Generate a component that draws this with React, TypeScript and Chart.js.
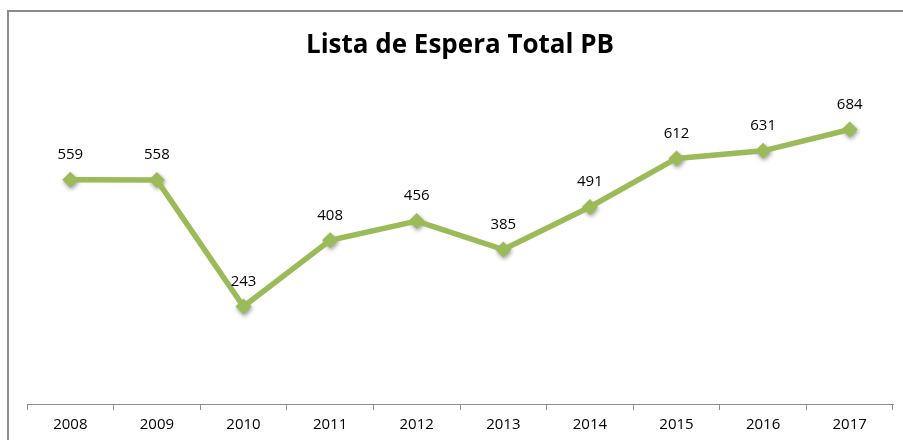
import React, { useEffect, useRef } from "react";
import { Chart, registerables } from "chart.js";

Chart.register(...registerables);

const categories = ["2008", "2009", "2010", "2011", "2012", "2013", "2014", "2015", "2016", "2017"];
const values = [559, 558, 243, 408, 456, 385, 491, 612, 631, 684];
const title = "Lista de Espera Total PB";

const FONT = "'Open Sans', 'Liberation Sans', sans-serif";
const GREEN = "#9BBB59";

const frame = {
  id: "frame",
  beforeDraw(chart: any) {
    const ctx = chart.ctx;
    ctx.save();
    ctx.fillStyle = "#fff";
    ctx.fillRect(0, 0, chart.width, chart.height);
    ctx.strokeStyle = "#8c8c8c";
    ctx.lineWidth = 2;
    ctx.beginPath();
    ctx.moveTo(8, chart.height + 5);
    ctx.lineTo(8, 11);
    ctx.lineTo(chart.width + 5, 11);
    ctx.stroke();
    ctx.restore();
  },
};

const shadow = {
  id: "shadow",
  beforeDatasetDraw(chart: any, args: any) {
    if (args.index !== 1) return;
    const ctx = chart.ctx;
    ctx.save();
    ctx.shadowColor = "rgba(0,0,0,0.4)";
    ctx.shadowBlur = 4;
    ctx.shadowOffsetX = 1;
    ctx.shadowOffsetY = 2;
  },
  afterDatasetDraw(chart: any, args: any) {
    if (args.index !== 1) return;
    chart.ctx.restore();
  },
};

const labels = {
  id: "labels",
  afterDatasetsDraw(chart: any) {
    const ctx = chart.ctx;
    const meta = chart.getDatasetMeta(1);
    ctx.save();
    ctx.fillStyle = "#000";
    ctx.font = `15px ${FONT}`;
    ctx.textAlign = "center";
    ctx.textBaseline = "middle";
    meta.data.forEach((pt: any, i: number) => {
      ctx.fillText(String(values[i]), pt.x, pt.y - 25);
    });
    ctx.restore();
  },
};

export default function App() {
  const ref = useRef<HTMLCanvasElement>(null);
  useEffect(() => {
    if (!ref.current) return;
    const chart = new Chart(ref.current, {
      type: "line",
      data: {
        labels: categories,
        datasets: [
          {
            data: values,
            borderColor: GREEN,
            backgroundColor: GREEN,
            borderWidth: 5.5,
            pointRadius: 0,
            tension: 0,
          },
          {
            data: values,
            showLine: false,
            borderColor: GREEN,
            backgroundColor: GREEN,
            pointStyle: "rectRot",
            pointRadius: 8,
            pointBorderWidth: 0,
            pointBackgroundColor: GREEN,
          },
        ],
      },
      options: {
        animation: false,
        responsive: false,
        maintainAspectRatio: false,
        layout: { padding: { left: 27, right: 10, top: 0, bottom: 0 } },
        plugins: {
          legend: { display: false },
          tooltip: { enabled: false },
          title: {
            display: true,
            text: title,
            color: "#000",
            font: { family: FONT, size: 26, weight: "bold", lineHeight: 1.2 },
            padding: { top: 30, bottom: 21.8 },
          },
        },
        scales: {
          x: {
            offset: true,
            grid: {
              display: true,
              offset: true,
              drawOnChartArea: false,
              drawTicks: true,
              tickLength: 6,
              color: "#8c8c8c",
            },
            border: { display: true, color: "#8c8c8c", width: 1 },
            ticks: { color: "#000", font: { family: FONT, size: 15 }, padding: 6 },
          },
          y: {
            display: false,
            min: 0,
            max: 800,
          },
        },
      },
      plugins: [frame, shadow, labels],
    });
    return () => chart.destroy();
  }, []);
  return (
    <div style={{ position: "fixed", left: 0, top: 0, width: 903, height: 440 }}>
      <canvas ref={ref} width={903} height={440} style={{ display: "block" }} />
    </div>
  );
}
